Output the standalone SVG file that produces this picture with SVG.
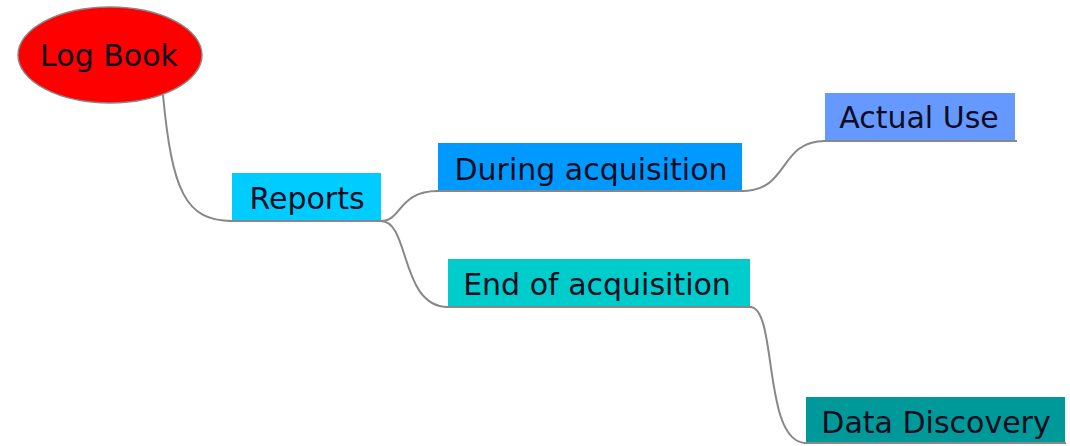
<svg xmlns="http://www.w3.org/2000/svg" width="1070" height="446" viewBox="0 0 1070 446">
<style>
.lbl{font-family:"DejaVu Sans",sans-serif;font-size:30px;fill:#0d0d1f;text-anchor:middle}
.conn{fill:none;stroke:#888;stroke-width:2}
.ul{stroke:#888;stroke-width:2}
</style>
<rect width="1070" height="446" fill="#fff"/>
<g id="connectors">
<path class="conn" d="M163,95 C172,190 185,221 232,221"/>
<path class="conn" d="M381,221 C402,221 398,191 438,191"/>
<path class="conn" d="M381,221 C410,221 400,307 448,307"/>
<path class="conn" d="M742,191 C790,191 778,141 825,141"/>
<path class="conn" d="M750,307 C778,307 762,443 806,443"/>
</g>
<g id="logbook">
<ellipse cx="110" cy="55" rx="92" ry="48" fill="#ff0000" stroke="#888" stroke-width="1.5"/>
<text class="lbl" x="109" y="66">Log Book</text>
</g>
<g id="reports">
<rect x="232" y="173" width="149" height="48" fill="#00ccff"/>
<line class="ul" x1="228" y1="221" x2="384" y2="221"/>
<text class="lbl" x="307" y="209">Reports</text>
</g>
<g id="during">
<rect x="438" y="143" width="304" height="48" fill="#0099ff"/>
<line class="ul" x1="436" y1="191" x2="744" y2="191"/>
<text class="lbl" x="591" y="180">During acquisition</text>
</g>
<g id="end">
<rect x="448" y="259" width="302" height="48" fill="#00cccc"/>
<line class="ul" x1="446" y1="307" x2="752" y2="307"/>
<text class="lbl" x="597" y="295">End of acquisition</text>
</g>
<g id="actual">
<rect x="825" y="93" width="190" height="48" fill="#6699ff"/>
<line class="ul" x1="823" y1="141" x2="1017" y2="141"/>
<text class="lbl" x="919" y="128">Actual Use</text>
</g>
<g id="discovery">
<rect x="806" y="397" width="259" height="46" fill="#009999"/>
<line class="ul" x1="804" y1="443" x2="1066" y2="443"/>
<text class="lbl" x="936" y="433">Data Discovery</text>
</g>
</svg>
